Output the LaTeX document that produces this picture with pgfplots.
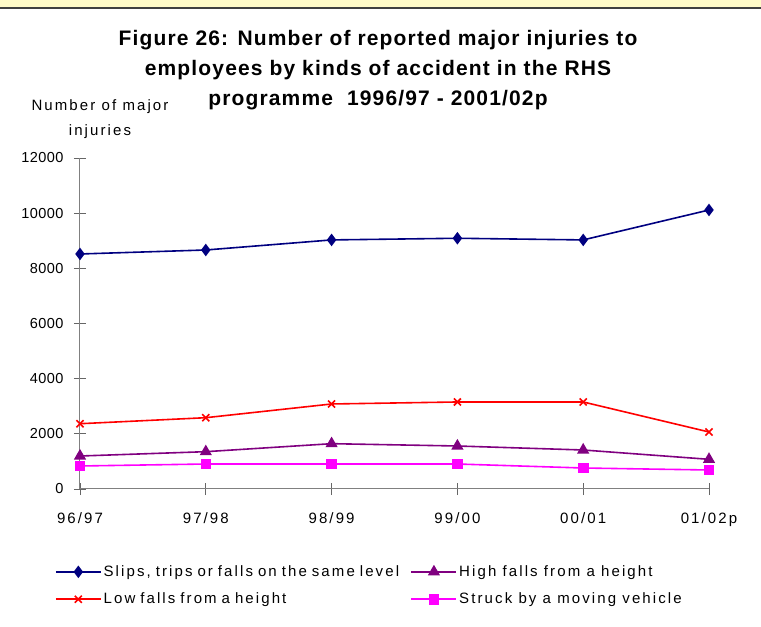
\documentclass[border=0pt]{standalone}
\usepackage{fontspec}
\setmainfont[LetterSpace=14]{Liberation Sans}
\newfontfamily\titlefont[LetterSpace=5.5]{Liberation Sans}
\newfontfamily\ytickfont[LetterSpace=3]{Liberation Sans}
\usepackage{pgfplots}
\pgfplotsset{compat=1.18}
\definecolor{slips}{HTML}{000080}
\definecolor{highf}{HTML}{800080}
\definecolor{lowf}{HTML}{FF0000}
\definecolor{struck}{HTML}{FF00FF}
\definecolor{band}{HTML}{FFFBC8}

\begin{document}
\begin{tikzpicture}[x=1pt,y=1pt]
\useasboundingbox (0,0) rectangle (761,627);
% top band
\fill[band] (0,619) rectangle (761,627);
\draw[line width=2pt, black!75] (0,619) -- (761,619);

\node[font=\titlefont\bfseries\fontsize{21}{30}\selectfont, align=center] at (378,557)
  {Figure 26: Number of reported major injuries to\\
   employees by kinds of accident in the RHS\\
   programme\ \ 1996/97 - 2001/02p};
\node[font=\fontsize{15}{25}\selectfont, align=center] at (100,508)
  {Number of major\\injuries};

\begin{axis}[
  at={(80pt,138pt)}, anchor=origin,
  scale only axis,
  width=629pt, height=331pt,
  xmin=0, xmax=5, ymin=0, ymax=12000,
  axis x line*=bottom, axis y line*=left,
  axis line style={draw=black!50, line width=1pt, -},
  xtick=data,
  xticklabels={96/97,97/98,98/99,99/00,00/01,01/02p},
  ytick={0,2000,...,12000},
  scaled y ticks=false,
  /pgf/number format/fixed,
  /pgf/number format/1000 sep={},
  /pgf/number format/assume math mode=true,
  tick align=center, major tick length=12pt,
  tick style={draw=black!60, line width=0.8pt},
  xticklabel style={font=\fontsize{15}{16}\selectfont, yshift=-14pt},
  yticklabel style={font=\ytickfont\fontsize{14.5}{16}\selectfont, xshift=-7pt},
  legend columns=2,
  legend style={at={(rel axis cs:-0.04,-0.225)}, anchor=north west, draw=none,
    font=\fontsize{15}{16}\selectfont, row sep=11pt,
    /tikz/every even column/.append style={column sep=0pt},
    /tikz/column 2/.style={text width=305pt},
    inner sep=0pt},
  legend cell align=left,
  legend image code/.code={\draw[mark repeat=2,mark phase=2,#1]
    plot coordinates {(0pt,0pt) (22.5pt,0pt) (45pt,0pt)};},
  every axis plot/.append style={line width=1.6pt},
]
\addplot[color=slips, mark=diamond*, mark size=5pt, mark options={solid}]
  coordinates {(0,8520) (1,8665) (2,9030) (3,9090) (4,9030) (5,10115)};
\addlegendentry{Slips, trips or falls on the same level}
\addplot[color=highf, mark=triangle*, mark size=5.5pt]
  coordinates {(0,1196) (1,1353) (2,1643) (3,1559) (4,1414) (5,1076)};
\addlegendentry{High falls from a height}
\addplot[color=lowf, mark=x, mark size=5pt]
  coordinates {(0,2367) (1,2585) (2,3082) (3,3155) (4,3155) (5,2067)};
\addlegendentry{Low falls from a height}
\addplot[color=struck, mark=square*, mark size=4.5pt]
  coordinates {(0,834) (1,906) (2,906) (3,906) (4,761) (5,689)};
\addlegendentry{Struck by a moving vehicle}
\end{axis}
\end{tikzpicture}
\end{document}
